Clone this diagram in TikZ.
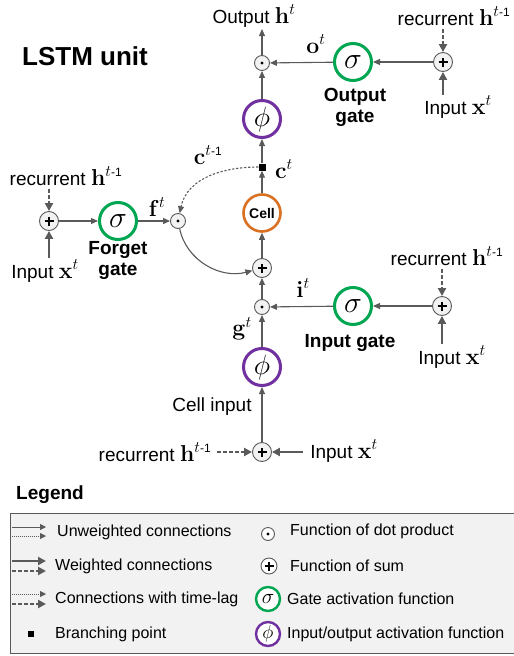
\documentclass[tikz,border=0pt]{standalone}
\usepackage{fix-cm}
\usepackage{amsmath}
\usepackage[no-math]{fontspec}
\setmainfont{Liberation Sans}
\usetikzlibrary{arrows.meta}
\definecolor{lgreen}{RGB}{0,166,81}
\definecolor{lpurple}{RGB}{112,48,160}
\definecolor{lorange}{RGB}{217,112,34}
\definecolor{lline}{RGB}{90,90,90}
\definecolor{lbox}{RGB}{242,242,242}
\newcommand\mvec[2]{{\fontsize{23}{23}\selectfont$\mathbf{#1}^{#2}$}}
\newcommand\tmone{t\mbox{\fontsize{12}{12}\selectfont -1}}
\tikzset{
  lbl/.style={font=\fontsize{19}{22}\selectfont, inner sep=1pt},
  blbl/.style={font=\fontsize{19}{21}\selectfont\bfseries, align=center, inner sep=1pt},
  legtxt/.style={font=\fontsize{16}{18}\selectfont, anchor=west, inner sep=0pt},
  opbase/.style={circle, draw=lline, fill=gray!10, line width=0.9pt, inner sep=0pt},
  opdot/.style={opbase, minimum size=15pt,
    path picture={\fill[black] (path picture bounding box.center) circle (1.6pt);}},
  opsum/.style={opbase, minimum size=19pt,
    path picture={\draw[black, line width=1.2pt]
      ([xshift=-4.5pt]path picture bounding box.center) -- ([xshift=4.5pt]path picture bounding box.center)
      ([yshift=-4.5pt]path picture bounding box.center) -- ([yshift=4.5pt]path picture bounding box.center);}},
  gatec/.style={circle, draw=lgreen, fill=white, line width=3pt, minimum size=37pt, inner sep=0pt,
    font=\fontsize{30}{30}\selectfont},
  actc/.style={circle, draw=lpurple, fill=white, line width=3pt, minimum size=37pt, inner sep=0pt,
    font=\fontsize{28}{28}\selectfont},
  cellc/.style={circle, draw=lorange, fill=white, line width=2.6pt, minimum size=37pt, inner sep=0pt,
    font=\fontsize{14}{14}\selectfont\bfseries},
  branchpt/.style={rectangle, fill=black, minimum size=7pt, inner sep=0pt},
  arr/.style={draw=lline, line width=1.1pt, -{Triangle[length=7pt,width=6pt]}},
  warr/.style={draw=lline, line width=2.4pt, -{Triangle[length=8pt,width=8pt]}},
  rarr/.style={draw=lline, line width=2pt, dash pattern=on 3.5pt off 2.5pt, -{Triangle[length=8pt,width=8pt]}},
  tarr/.style={draw=lline, line width=1.1pt, dash pattern=on 2.2pt off 1.8pt, -{Triangle[length=7pt,width=6pt]}},
}
\begin{document}
\begin{tikzpicture}[x=1pt,y=-1pt]
\useasboundingbox (0,0) rectangle (514,656);

% title
\node[font=\fontsize{26}{26}\selectfont\bfseries] (title) at (85,56) {LSTM unit};

% central column
\node[opdot] (odot) at (262,63) {};
\node[actc] (phi1) at (262,119) {$\phi$};
\node[branchpt] (br) at (262,167) {};
\node[cellc] (cell) at (262,213) {Cell};
\node[opsum] (csum) at (262,268) {};
\node[opdot] (idot) at (262,307) {};
\node[actc] (phi2) at (262,367) {$\phi$};
\node[opsum] (bsum) at (262,452) {};

\node[lbl] (outlab) at (254,16) {Output \mvec{h}{t}};
\coordinate (out0) at (262,29);
\node[lbl] (ctl) at (284,169) {\mvec{c}{t}};
\node[lbl] (ctm) at (208,155) {\mvec{c}{\tmone}};
\node[lbl] (gtl) at (242,329) {\mvec{g}{t}};
\node[lbl] (cin) at (212,407) {Cell input};
\node[lbl] (brec) at (155,452) {recurrent \mvec{h}{\tmone}};
\coordinate (brec0) at (217,452);
\node[lbl] (bin) at (344,451) {Input \mvec{x}{t}};
\coordinate (bin0) at (303,452);

% output gate
\node[gatec] (og) at (353,62) {$\sigma$};
\node[opsum] (osum) at (443,62) {};
\node[lbl] (otl) at (316,44) {\mvec{o}{t}};
\node[blbl] (oglab) at (355,107) {Output\\gate};
\node[lbl] (orec) at (454,16) {recurrent \mvec{h}{\tmone}};
\coordinate (orec0) at (443,29);
\node[lbl] (oin) at (458,107) {Input \mvec{x}{t}};
\coordinate (oin0) at (443,95);

% forget gate
\node[opsum] (fsum) at (49,221) {};
\node[gatec] (fg) at (118,221) {$\sigma$};
\node[opdot] (fdot) at (178,221) {};
\node[lbl] (ftl) at (157,207) {\mvec{f}{t}};
\node[blbl] (fglab) at (118,260) {Forget\\gate};
\node[lbl] (frec) at (66,176) {recurrent \mvec{h}{\tmone}};
\coordinate (frec0) at (49,189);
\node[lbl] (fin) at (45,271) {Input \mvec{x}{t}};
\coordinate (fin0) at (49,258);

% input gate
\node[gatec] (ig) at (353,306) {$\sigma$};
\node[opsum] (isum) at (442,306) {};
\node[lbl] (itl) at (303,288) {\mvec{i}{t}};
\node[blbl] (iglab) at (350,343) {Input gate};
\node[lbl] (irec) at (447,256) {recurrent \mvec{h}{\tmone}};
\coordinate (irec0) at (442,269);
\node[lbl] (iin) at (452,357) {Input \mvec{x}{t}};
\coordinate (iin0) at (442,344);

% connectors: column
\draw[arr] (odot) -- (out0);
\draw[arr] (phi1) -- (odot);
\draw[arr] (br) -- (phi1);
\draw[arr] (cell) -- (br);
\draw[arr] (csum) -- (cell);
\draw[arr] (idot) -- (csum);
\draw[arr] (phi2) -- (idot);
\draw[arr] (bsum) -- (phi2);
\draw[rarr] (brec0) -- (bsum);
\draw[warr] (bin0) -- (bsum);

% output gate connectors
\draw[arr] (osum) -- (og);
\draw[arr] (og) -- (odot);
\draw[rarr] (orec0) -- (osum);
\draw[warr] (oin0) -- (osum);

% forget gate connectors
\draw[arr] (fsum) -- (fg);
\draw[arr] (fg) -- (fdot);
\draw[rarr] (frec0) -- (fsum);
\draw[warr] (fin0) -- (fsum);

% input gate connectors
\draw[arr] (isum) -- (ig);
\draw[arr] (ig) -- (idot);
\draw[rarr] (irec0) -- (isum);
\draw[warr] (iin0) -- (isum);

% cell state recurrences
\draw[tarr] (br) to[out=180,in=78] (fdot);
\draw[arr] (fdot) to[out=-78,in=195] (csum);

% legend
\node[font=\fontsize{19}{19}\selectfont\bfseries] (leg) at (50,495) {Legend};
\draw[draw=gray!70!black, fill=lbox, line width=0.9pt] (10,513) rectangle (518,653);

\draw[draw=lline, line width=0.8pt, -{Triangle[length=6pt,width=6pt]}] (12,527) -- (46,527);
\draw[draw=lline, line width=0.8pt, dash pattern=on 1pt off 1pt, -{Triangle[length=6pt,width=6pt]}] (12,536) -- (46,536);
\draw[draw=lline, line width=2pt, -{Triangle[length=8pt,width=8pt]}] (12,561) -- (46,561);
\draw[draw=lline, line width=2pt, dash pattern=on 3.5pt off 2.5pt, -{Triangle[length=8pt,width=8pt]}] (12,571) -- (46,571);
\draw[draw=lline, line width=0.8pt, dash pattern=on 1pt off 1pt, -{Triangle[length=6pt,width=6pt]}] (12,594) -- (46,594);
\draw[draw=lline, line width=2pt, dash pattern=on 3.5pt off 2.5pt, -{Triangle[length=8pt,width=8pt]}] (12,604) -- (46,604);
\node[branchpt, minimum size=6pt] (lbr) at (31,634) {};

\node[legtxt] (t1) at (57,532) {Unweighted connections};
\node[legtxt] (t2) at (55,566) {Weighted connections};
\node[legtxt] (t3) at (55,599) {Connections with time-lag};
\node[legtxt] (t4) at (55,634) {Branching point};

\node[opdot, fill=white, minimum size=13pt] (ldot) at (268,534) {};
\node[opsum, fill=white, minimum size=16pt] (lsum) at (269,566) {};
\node[gatec, minimum size=24pt, line width=2.4pt, font=\fontsize{21}{21}\selectfont] (lsig) at (268,599) {$\sigma$};
\node[actc, minimum size=24pt, line width=2.4pt, font=\fontsize{19}{19}\selectfont] (lphi) at (268,634) {$\phi$};

\node[legtxt] (t5) at (290,531) {Function of dot product};
\node[legtxt] (t6) at (290,566) {Function of sum};
\node[legtxt] (t7) at (287,599) {Gate activation function};
\node[legtxt] (t8) at (287,634) {Input/output activation function};
\end{tikzpicture}
\end{document}
